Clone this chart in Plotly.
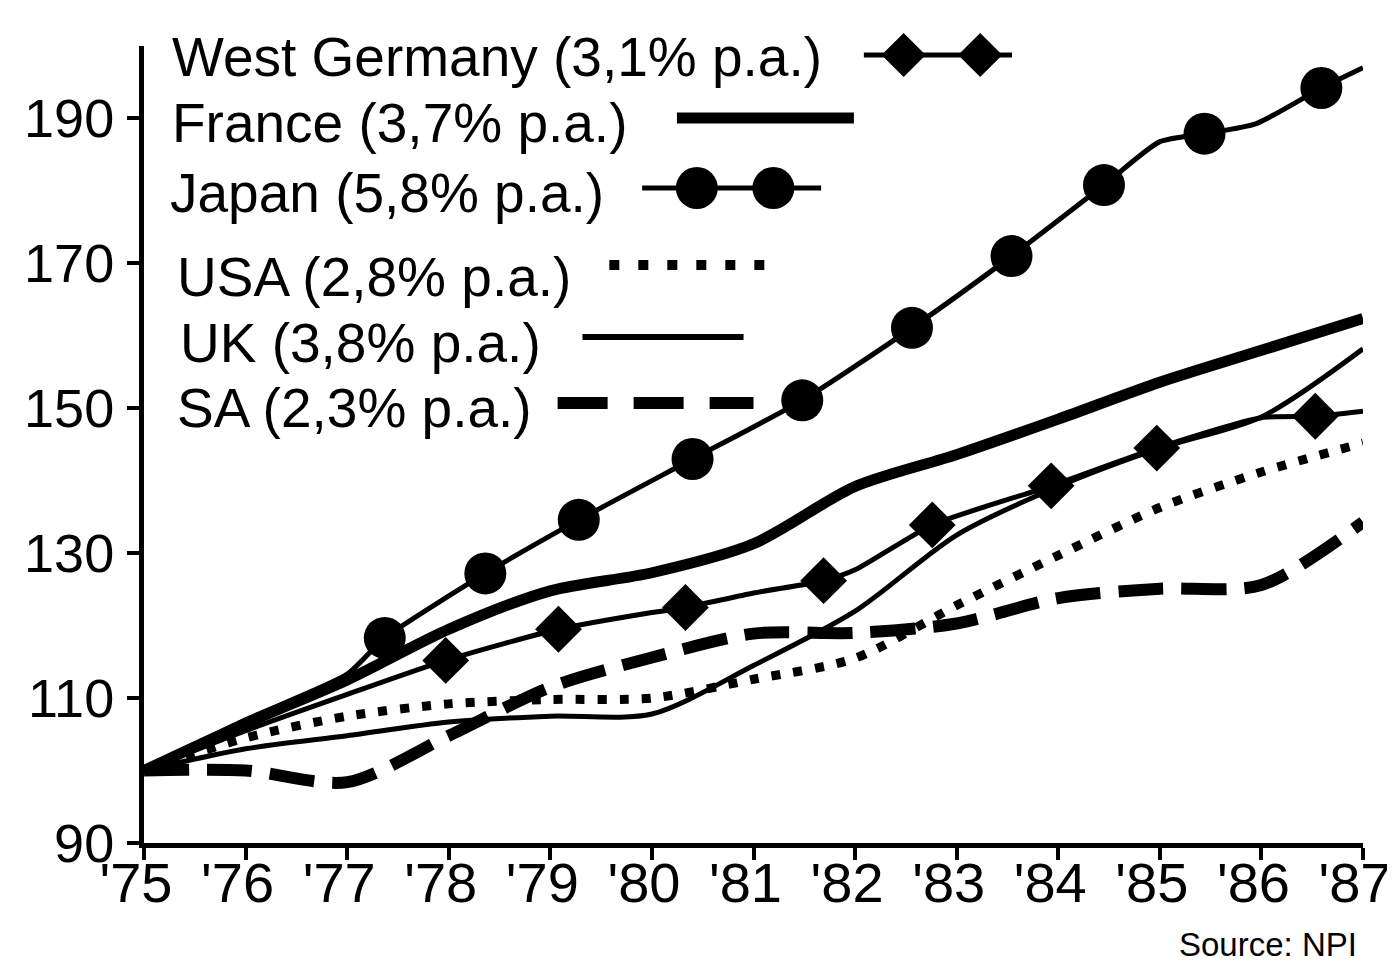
import plotly.graph_objects as go

# ---------------- data ----------------
years = [1975, 1976, 1977, 1978, 1979, 1980, 1981, 1982, 1983, 1984, 1985, 1986, 1987]
year_labels = ["'75", "'76", "'77", "'78", "'79", "'80", "'81", "'82", "'83", "'84", "'85", "'86", "'87"]
y_ticks = [90, 110, 130, 150, 170, 190]

france = [100, 106.5, 112.5, 119.5, 124.8, 127.3, 131.3, 139.2, 143.6, 148.5, 153.6, 158.0, 162.4]
usa = [100, 104.5, 107.5, 109.2, 109.8, 110.0, 112.6, 115.5, 122.8, 129.7, 136.3, 141.2, 145.2]
uk = [100, 103.0, 104.8, 106.7, 107.5, 107.8, 114.5, 122.0, 132.5, 139.2, 144.5, 148.8, 158.2]
sa = [100, 100.0, 98.4, 104.8, 111.5, 115.6, 118.9, 119.0, 120.3, 123.8, 125.1, 125.6, 134.3]

japan_x = [1975, 1976, 1977, 1977.37, 1978.36, 1979.28, 1980.40, 1981.48, 1982.56,
           1983.54, 1984.45, 1985.0, 1985.44, 1985.95, 1986.59, 1987.0]
japan_y = [100, 107.0, 113.3, 118.3, 127.2, 134.6, 143.0, 151.1, 161.1,
           171.0, 180.8, 186.8, 187.9, 189.3, 194.2, 197.0]
japan_marked = [0, 0, 0, 1, 1, 1, 1, 1, 1, 1, 1, 0, 1, 0, 1, 0]

wg_x = [1975, 1976, 1977, 1977.97, 1979.08, 1980.0, 1980.33, 1981.0, 1981.69, 1982.0,
        1982.76, 1983.93, 1984.97, 1986.0, 1986.53, 1987.0]
wg_y = [100, 105.5, 110.5, 115.2, 119.5, 121.8, 122.5, 124.5, 126.2, 127.7,
        133.9, 139.3, 144.5, 148.7, 148.9, 149.6]
wg_marked = [0, 0, 0, 1, 1, 0, 1, 0, 1, 0, 1, 1, 1, 0, 1, 0]

legend_labels = ["West Germany (3,1% p.a.)", "France (3,7% p.a.)", "Japan (5,8% p.a.)",
                 "USA (2,8% p.a.)", "UK (3,8% p.a.)", "SA (2,3% p.a.)"]
source_text = "Source: NPI"

# ---------------- layout constants ----------------
W, H = 1395, 966
PAGE_OFFSET = 8                      # default body margin of the html page
PLOT_L, PLOT_R, PLOT_T, PLOT_B = 144, 1370, 46, 843   # target plot box on screen
ML = PLOT_L - PAGE_OFFSET
MT = PLOT_T - PAGE_OFFSET
MR = W - (PLOT_R - PAGE_OFFSET)
MB = H - (PLOT_B - PAGE_OFFSET)
FONT = "Liberation Sans, Arial, Helvetica, sans-serif"
BLACK = "#000000"


def paper_x(px):
    return (px - PLOT_L) / (PLOT_R - PLOT_L)


def paper_y(py):
    return (PLOT_B - py) / (PLOT_B - PLOT_T)


fig = go.Figure()


def sizes(marked, s):
    return [s if m else 0 for m in marked]


common = dict(mode="lines", hoverinfo="skip", showlegend=False)

fig.add_trace(go.Scatter(x=years, y=sa, line=dict(color=BLACK, width=12, dash="45px,18px",
                                                   shape="spline", smoothing=0.8), **common))
fig.add_trace(go.Scatter(x=years, y=usa, line=dict(color=BLACK, width=9, dash="9px,13px",
                                                    shape="spline", smoothing=0.8), **common))
fig.add_trace(go.Scatter(x=years, y=uk, line=dict(color=BLACK, width=5,
                                                   shape="spline", smoothing=0.8), **common))
fig.add_trace(go.Scatter(x=years, y=france, line=dict(color=BLACK, width=11,
                                                       shape="spline", smoothing=0.8), **common))
fig.add_trace(go.Scatter(x=wg_x, y=wg_y, mode="lines+markers",
                         line=dict(color=BLACK, width=5, shape="spline", smoothing=0.6),
                         marker=dict(symbol="diamond", color=BLACK, opacity=1,
                                     size=sizes(wg_marked, 36), line=dict(width=0)),
                         hoverinfo="skip", showlegend=False))
fig.add_trace(go.Scatter(x=japan_x, y=japan_y, mode="lines+markers",
                         line=dict(color=BLACK, width=5, shape="spline", smoothing=0.6),
                         marker=dict(symbol="circle", color=BLACK, opacity=1,
                                     size=sizes(japan_marked, 42), line=dict(width=0)),
                         hoverinfo="skip", showlegend=False))

# ---------------- hand-drawn style legend (text then sample) ----------------
# overlay axes use on-screen pixel coordinates for the legend block
leg_text_pos = [(170, 57), (170, 123), (168, 193), (175, 277), (178, 343), (175, 408)]
leg_sample = [
    dict(x0=868, x1=1017, y=55, line=dict(color=BLACK, width=5), marks=[908, 985], symbol="diamond", msize=34),
    dict(x0=680, x1=858, y=118, line=dict(color=BLACK, width=11), marks=[], symbol=None, msize=0),
    dict(x0=645, x1=825, y=188, line=dict(color=BLACK, width=5), marks=[700, 777], symbol="circle", msize=42),
    dict(x0=612, x1=772, y=265, line=dict(color=BLACK, width=10, dash="10px,19px"), marks=[], symbol=None, msize=0),
    dict(x0=585, x1=747, y=337, line=dict(color=BLACK, width=6), marks=[], symbol=None, msize=0),
    dict(x0=560, x1=757, y=403, line=dict(color=BLACK, width=12, dash="50px,26px"), marks=[], symbol=None, msize=0),
]
for s in leg_sample:
    fig.add_trace(go.Scatter(x=[s["x0"], s["x1"]], y=[s["y"], s["y"]], mode="lines", line=s["line"],
                             xaxis="x2", yaxis="y2", hoverinfo="skip", showlegend=False, cliponaxis=False))
    if s["marks"]:
        fig.add_trace(go.Scatter(x=s["marks"], y=[s["y"]] * len(s["marks"]), mode="markers",
                                 marker=dict(symbol=s["symbol"], size=s["msize"], color=BLACK,
                                             opacity=1, line=dict(width=0)),
                                 xaxis="x2", yaxis="y2", hoverinfo="skip", showlegend=False, cliponaxis=False))

annotations = []
for label, (px, py) in zip(legend_labels, leg_text_pos):
    annotations.append(dict(text=label, x=px, y=py, xref="x2", yref="y2", xanchor="left", yanchor="middle",
                            showarrow=False, font=dict(family=FONT, size=55, color=BLACK)))
annotations.append(dict(text=source_text, x=paper_x(1366), y=paper_y(944), xref="paper", yref="paper",
                        xanchor="right", yanchor="middle", showarrow=False,
                        font=dict(family=FONT, size=33, color=BLACK)))

fig.update_layout(
    width=W, height=H,
    margin=dict(l=ML, r=MR, t=MT, b=MB),
    paper_bgcolor="white", plot_bgcolor="white",
    showlegend=False,
    annotations=annotations,
    xaxis=dict(range=[1975, 1987], tickvals=years, ticktext=year_labels,
               showgrid=False, zeroline=False, showline=True, linecolor=BLACK, linewidth=5,
               ticks="outside", ticklen=12, tickwidth=4, tickcolor=BLACK,
               ticklabelstandoff=-25, ticklabelshift=-8, ticklabeloverflow="allow",
               tickfont=dict(family=FONT, size=56, color=BLACK)),
    yaxis=dict(range=[90, 200], tickvals=y_ticks,
               showgrid=False, zeroline=False, showline=True, linecolor=BLACK, linewidth=5,
               ticks="outside", ticklen=12, tickwidth=4, tickcolor=BLACK, ticklabelstandoff=2,
               tickfont=dict(family=FONT, size=54, color=BLACK)),
    xaxis2=dict(overlaying="x", anchor="y2", range=[PLOT_L, PLOT_R], visible=False, fixedrange=True),
    yaxis2=dict(overlaying="y", anchor="x2", range=[PLOT_B, PLOT_T], visible=False, fixedrange=True),
)

fig.write_html("out.html")
